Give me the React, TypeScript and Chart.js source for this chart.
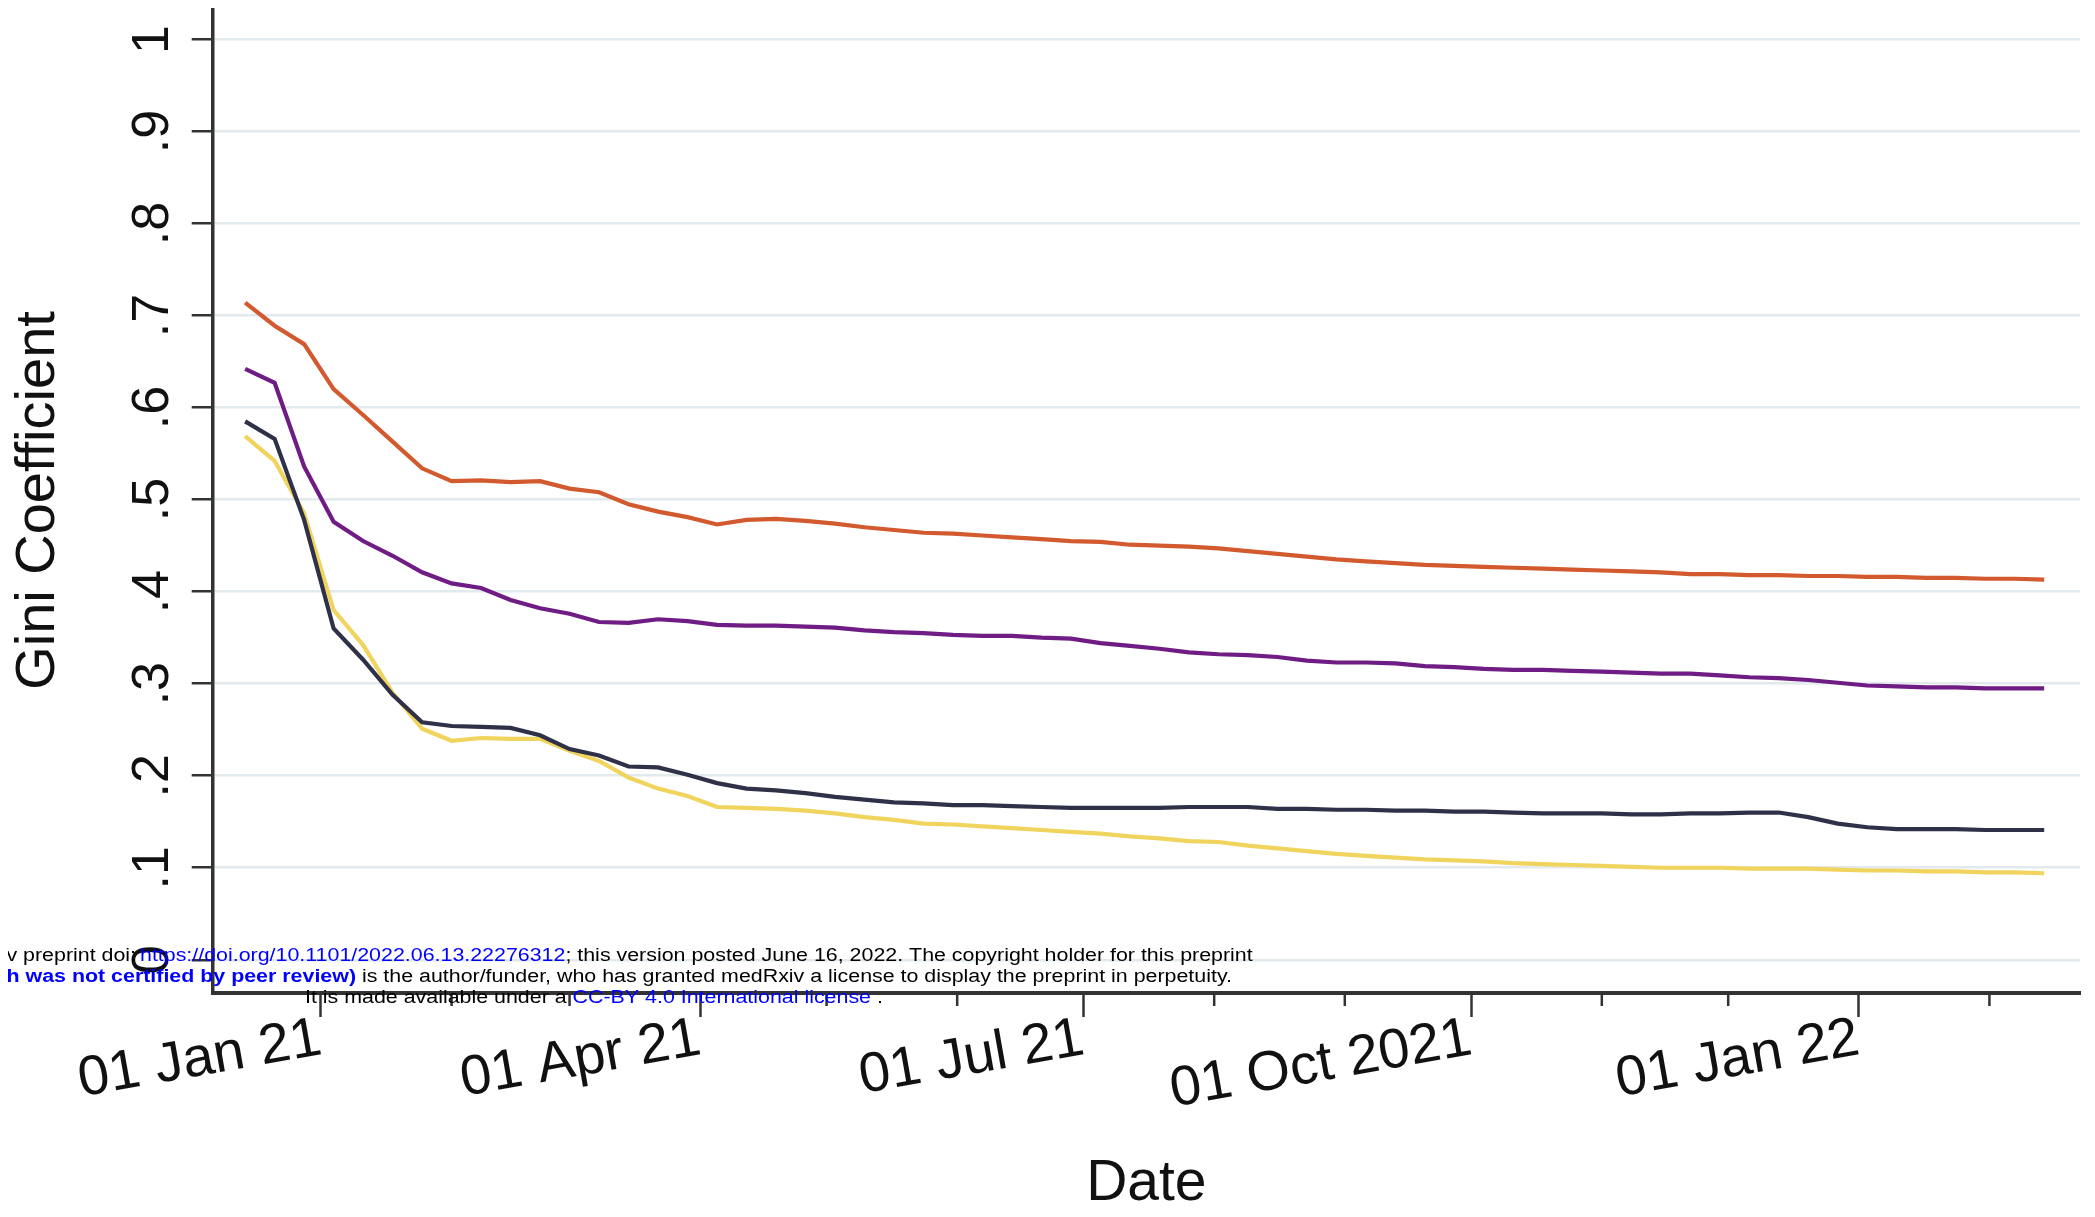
import React, { useEffect, useRef } from 'react';
import { Chart, registerables } from 'chart.js';

Chart.register(...registerables);

// Weekly observation dates
const weekDates = [
  '2020-12-14', '2020-12-21', '2020-12-28', '2021-01-04', '2021-01-11', '2021-01-18', '2021-01-25',
  '2021-02-01', '2021-02-08', '2021-02-15', '2021-02-22', '2021-03-01', '2021-03-08', '2021-03-15',
  '2021-03-22', '2021-03-29', '2021-04-05', '2021-04-12', '2021-04-19', '2021-04-26', '2021-05-03',
  '2021-05-10', '2021-05-17', '2021-05-24', '2021-05-31', '2021-06-07', '2021-06-14', '2021-06-21',
  '2021-06-28', '2021-07-05', '2021-07-12', '2021-07-19', '2021-07-26', '2021-08-02', '2021-08-09',
  '2021-08-16', '2021-08-23', '2021-08-30', '2021-09-06', '2021-09-13', '2021-09-20', '2021-09-27',
  '2021-10-04', '2021-10-11', '2021-10-18', '2021-10-25', '2021-11-01', '2021-11-08', '2021-11-15',
  '2021-11-22', '2021-11-29', '2021-12-06', '2021-12-13', '2021-12-20', '2021-12-27', '2022-01-03',
  '2022-01-10', '2022-01-17', '2022-01-24', '2022-01-31', '2022-02-07', '2022-02-14',
];

const orangeValues = [
  0.714, 0.689, 0.669, 0.620, 0.592, 0.563, 0.534, 0.520, 0.521, 0.519, 0.520, 0.512, 0.508, 0.495,
  0.487, 0.481, 0.473, 0.478, 0.479, 0.477, 0.474, 0.470, 0.467, 0.464, 0.463, 0.461, 0.459, 0.457,
  0.455, 0.454, 0.451, 0.450, 0.449, 0.447, 0.444, 0.441, 0.438, 0.435, 0.433, 0.431, 0.429, 0.428,
  0.427, 0.426, 0.425, 0.424, 0.423, 0.422, 0.421, 0.419, 0.419, 0.418, 0.418, 0.417, 0.417, 0.416,
  0.416, 0.415, 0.415, 0.414, 0.414, 0.413,
];

const purpleValues = [
  0.642, 0.627, 0.536, 0.476, 0.455, 0.439, 0.421, 0.409, 0.404, 0.391, 0.382, 0.376, 0.367, 0.366,
  0.370, 0.368, 0.364, 0.363, 0.363, 0.362, 0.361, 0.358, 0.356, 0.355, 0.353, 0.352, 0.352, 0.350,
  0.349, 0.344, 0.341, 0.338, 0.334, 0.332, 0.331, 0.329, 0.325, 0.323, 0.323, 0.322, 0.319, 0.318,
  0.316, 0.315, 0.315, 0.314, 0.313, 0.312, 0.311, 0.311, 0.309, 0.307, 0.306, 0.304, 0.301, 0.298,
  0.297, 0.296, 0.296, 0.295, 0.295, 0.295,
];

const navyValues = [
  0.585, 0.566, 0.478, 0.360, 0.326, 0.288, 0.258, 0.254, 0.253, 0.252, 0.244, 0.229, 0.222, 0.210,
  0.209, 0.201, 0.192, 0.186, 0.184, 0.181, 0.177, 0.174, 0.171, 0.170, 0.168, 0.168, 0.167, 0.166,
  0.165, 0.165, 0.165, 0.165, 0.166, 0.166, 0.166, 0.164, 0.164, 0.163, 0.163, 0.162, 0.162, 0.161,
  0.161, 0.160, 0.159, 0.159, 0.159, 0.158, 0.158, 0.159, 0.159, 0.160, 0.160, 0.155, 0.148, 0.144,
  0.142, 0.142, 0.142, 0.141, 0.141, 0.141,
];

const yellowValues = [
  0.569, 0.542, 0.485, 0.380, 0.342, 0.290, 0.251, 0.238, 0.241, 0.240, 0.240, 0.227, 0.216, 0.198,
  0.186, 0.178, 0.166, 0.165, 0.164, 0.162, 0.159, 0.155, 0.152, 0.148, 0.147, 0.145, 0.143, 0.141,
  0.139, 0.137, 0.134, 0.132, 0.129, 0.128, 0.124, 0.121, 0.118, 0.115, 0.113, 0.111, 0.109, 0.108,
  0.107, 0.105, 0.104, 0.103, 0.102, 0.101, 0.100, 0.100, 0.100, 0.099, 0.099, 0.099, 0.098, 0.097,
  0.097, 0.096, 0.096, 0.095, 0.095, 0.094,
];

const seriesColors = ['#d25a2e', '#6f1c84', '#2f3149', '#f0d45e'];

const yTickValues = [0, 0.1, 0.2, 0.3, 0.4, 0.5, 0.6, 0.7, 0.8, 0.9, 1];
const yTickLabels = ['0', '.1', '.2', '.3', '.4', '.5', '.6', '.7', '.8', '.9', '1'];

const xTickDates = [
  '2021-01-01', '2021-02-01', '2021-03-01', '2021-04-01', '2021-05-01', '2021-06-01', '2021-07-01',
  '2021-08-01', '2021-09-01', '2021-10-01', '2021-11-01', '2021-12-01', '2022-01-01', '2022-02-01',
];
const xTickLabels = [
  '01 Jan 21', '', '', '01 Apr 21', '', '', '01 Jul 21', '', '', '01 Oct 2021', '', '', '01 Jan 22', '',
];

const xAxisTitle = 'Date';
const yAxisTitle = 'Gini Coefficient';

const watermarkLine1 = ['medRxiv preprint doi: ', 'https://doi.org/10.1101/2022.06.13.22276312', '; this version posted June 16, 2022. The copyright holder for this preprint'];
const watermarkLine2 = ['(which was not certified by peer review)', ' is the author/funder, who has granted medRxiv a license to display the preprint in perpetuity.'];
const watermarkLine3 = ['It is made available under a ', 'CC-BY 4.0 International license', ' .'];

const ORIGIN = Date.parse('2021-01-01');
const dayOf = (iso: string) => (Date.parse(iso) - ORIGIN) / 86400000;

const FONT = "'Liberation Sans', Arial, sans-serif";
const WM_FONT = "'Liberation Sans', Arial, sans-serif";

const CANVAS_W = 2079;
const CANVAS_H = 1201;

const minorTickPlugin = {
  id: 'minorTicks',
  afterDraw(chart: any) {
    const xs = chart.scales.x;
    const ctx = chart.ctx;
    ctx.save();
    ctx.strokeStyle = '#333';
    ctx.lineWidth = 2.5;
    xs.ticks.forEach((t: any, i: number) => {
      if (!xTickLabels[i]) {
        const px = xs.getPixelForValue(t.value);
        ctx.beginPath();
        ctx.moveTo(px, xs.top);
        ctx.lineTo(px, xs.top + 13);
        ctx.stroke();
      }
    });
    ctx.restore();
  },
};

const watermarkPlugin = {
  id: 'watermark',
  afterDraw(chart: any) {
    const ctx = chart.ctx;
    const sy = 0.86;
    const size = 21.4;
    const drawSeg = (text: string, x: number, y: number, color: string, bold: boolean, align: CanvasTextAlign) => {
      ctx.save();
      ctx.font = `${bold ? 'bold ' : ''}${size}px ${WM_FONT}`;
      ctx.fillStyle = color;
      ctx.textAlign = align;
      ctx.textBaseline = 'alphabetic';
      ctx.translate(x, y);
      ctx.scale(1, sy);
      ctx.fillText(text, 0, 0);
      const w = ctx.measureText(text).width;
      ctx.restore();
      return w;
    };
    // line 1
    let y = 953;
    drawSeg(watermarkLine1[0], 134, y, '#000', false, 'right');
    let x = 132;
    x += drawSeg(watermarkLine1[1], x, y, '#0000ff', false, 'left');
    drawSeg(watermarkLine1[2], x, y, '#000', false, 'left');
    // line 2
    y = 974;
    drawSeg(watermarkLine2[0], 348, y, '#0000ff', true, 'right');
    drawSeg(watermarkLine2[1], 348, y, '#000', false, 'left');
    // line 3
    y = 995;
    x = 297;
    x += drawSeg(watermarkLine3[0], x, y, '#000', false, 'left');
    x += drawSeg(watermarkLine3[1], x, y, '#0000ff', false, 'left');
    drawSeg(watermarkLine3[2], x, y, '#000', false, 'left');
  },
};

export default function App() {
  const canvasRef = useRef<HTMLCanvasElement | null>(null);

  useEffect(() => {
    const canvas = canvasRef.current;
    if (!canvas) return;
    const mk = (vals: number[]) => weekDates.map((d, i) => ({ x: dayOf(d), y: vals[i] }));
    const seriesData = [orangeValues, purpleValues, navyValues, yellowValues];
    const chart = new Chart(canvas, {
      type: 'line',
      data: {
        datasets: seriesData.map((vals, i) => ({
          label: `Series ${i + 1}`,
          data: mk(vals),
          borderColor: seriesColors[i],
          backgroundColor: seriesColors[i],
          borderWidth: 4.2,
          pointRadius: 0,
          tension: 0,
          fill: false,
        })),
      },
      options: {
        responsive: false,
        maintainAspectRatio: false,
        devicePixelRatio: 1,
        animation: false,
        events: [],
        layout: { autoPadding: false, padding: { left: 0, right: 7, top: 0, bottom: 0 } },
        plugins: { legend: { display: false }, tooltip: { enabled: false } },
        scales: {
          x: {
            type: 'linear',
            position: 'bottom',
            min: -25.7,
            max: 417.5,
            afterBuildTicks: (scale: any) => {
              scale.ticks = xTickDates.map((d) => ({ value: dayOf(d) }));
            },
            afterFit: (scale: any) => {
              scale.height = CANVAS_H - 985;
              scale.paddingLeft = 0;
              scale.paddingRight = 0;
              scale.paddingTop = 0;
              scale.paddingBottom = 0;
            },
            grid: {
              drawOnChartArea: false,
              drawTicks: true,
              tickLength: 24,
              tickWidth: 2.5,
              tickColor: (ctx: any) => (xTickLabels[ctx.index] ? '#333' : 'rgba(0,0,0,0)'),
            },
            border: { display: true, color: '#333', width: 4 },
            ticks: {
              autoSkip: false,
              minRotation: 10,
              maxRotation: 10,
              padding: -6,
              color: '#111',
              font: { family: FONT, size: 56, lineHeight: 1 },
              callback: (_v: any, i: number) => xTickLabels[i],
            },
            title: {
              display: true,
              text: xAxisTitle,
              color: '#111',
              font: { family: FONT, size: 57, lineHeight: 1 },
              padding: { top: 0, bottom: -4 },
            },
          },
          y: {
            type: 'linear',
            position: 'left',
            min: -0.0361,
            max: 1.0342,
            afterBuildTicks: (scale: any) => {
              scale.ticks = yTickValues.map((v) => ({ value: v }));
            },
            afterFit: (scale: any) => {
              scale.width = 204.7;
              scale.paddingLeft = 0;
              scale.paddingRight = 0;
              scale.paddingTop = 0;
              scale.paddingBottom = 0;
            },
            grid: {
              drawOnChartArea: true,
              drawTicks: true,
              tickLength: 21,
              tickWidth: 2.5,
              tickColor: '#333',
              color: '#e3eaee',
              lineWidth: 2.5,
            },
            border: { display: true, color: '#333', width: 3.5 },
            ticks: {
              autoSkip: false,
              minRotation: 90,
              maxRotation: 90,
              crossAlign: 'center',
              padding: 16,
              color: '#111',
              font: { family: FONT, size: 52, lineHeight: 1 },
              callback: (_v: any, i: number) => yTickLabels[i],
            },
            title: {
              display: true,
              text: yAxisTitle,
              color: '#111',
              font: { family: FONT, size: 56, lineHeight: 1 },
              padding: { top: 3, bottom: 0 },
            },
          },
        },
      } as any,
      plugins: [minorTickPlugin, watermarkPlugin],
    });
    return () => chart.destroy();
  }, []);

  return (
    <div style={{ width: CANVAS_W, height: CANVAS_H }}>
      <canvas
        ref={canvasRef}
        width={CANVAS_W}
        height={CANVAS_H}
        style={{ display: 'block', width: CANVAS_W, height: CANVAS_H }}
      />
    </div>
  );
}
